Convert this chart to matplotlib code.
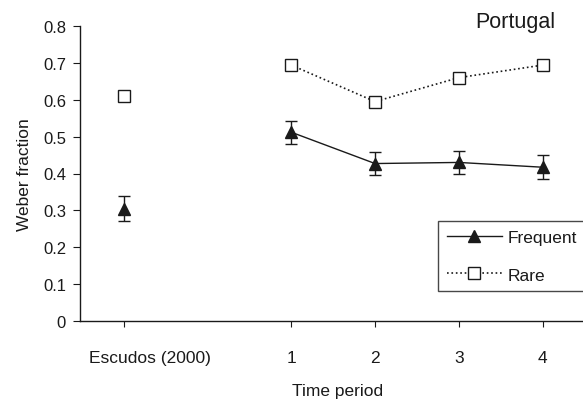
import numpy as np
import matplotlib.pyplot as plt
import matplotlib.transforms as mtransforms
from matplotlib.lines import Line2D

plt.rcParams['font.family'] = ['Liberation Sans', 'DejaVu Sans']

# data
labels = ['Escudos (2000)', '1', '2', '3', '4']
x_pos = [-1, 1, 2, 3, 4]
frequent = [0.305, 0.512, 0.427, 0.430, 0.417]
frequent_err = [0.034, 0.031, 0.032, 0.032, 0.032]
rare = [0.610, 0.694, 0.595, 0.660, 0.694]
rare_err = [0.010, 0.010, 0.010, 0.010, 0.010]

ink = '#1a1a1a'

fig = plt.figure(figsize=(5.83, 4.02), dpi=100)
ax = fig.add_axes([80/583, 1 - 322/402, 1 - 80/583 + 0.02, (322 - 27)/402])

# Escudos points (not connected)
ax.errorbar(x_pos[:1], frequent[:1], yerr=frequent_err[:1], fmt='^', color=ink,
            ms=8, capsize=4, elinewidth=1, capthick=1)
ax.errorbar(x_pos[:1], rare[:1], yerr=rare_err[:1], fmt='s', color=ink, mfc='white',
            ms=8, capsize=3, elinewidth=1, capthick=1)

# time periods
ax.errorbar(x_pos[1:], frequent[1:], yerr=frequent_err[1:], fmt='-^', color=ink,
            lw=1, ms=8, capsize=4, elinewidth=1, capthick=1)
ax.errorbar(x_pos[1:], rare[1:], yerr=rare_err[1:], fmt='s', ls=':', color=ink,
            mfc='white', lw=1.2, ms=8, capsize=3, elinewidth=1, capthick=1)

ax.set_xlim(-1.52, 4.62)
ax.set_ylim(0, 0.8)
ax.set_yticks(np.arange(0, 0.81, 0.1))
ax.set_yticklabels(['0'] + [f'{v:.1f}' for v in np.arange(0.1, 0.81, 0.1)])
ax.set_xticks(x_pos)
ax.set_xticklabels(labels)

for s in ['top', 'right']:
    ax.spines[s].set_visible(False)
for s in ['left', 'bottom']:
    ax.spines[s].set_color(ink)
    ax.spines[s].set_linewidth(1)

ax.tick_params(axis='y', direction='out', length=5, pad=5, labelsize=12, colors=ink)
ax.tick_params(axis='x', direction='out', length=4, pad=17, labelsize=12.5, colors=ink)

# the Escudos label sits a bit right of its tick in the original
lbl = ax.get_xticklabels()[0]
lbl.set_transform(lbl.get_transform() + mtransforms.ScaledTranslation(26/100, 0, fig.dpi_scale_trans))

ax.set_ylabel('Weber fraction', fontsize=12.5, color=ink, labelpad=8)
ax.set_xlabel('Time period', fontsize=12.5, color=ink, labelpad=13)

fig.text(475/583, 1 - 28/402, 'Portugal', fontsize=15.5, color=ink, va='baseline', ha='left')

handles = [Line2D([], [], color=ink, lw=1, marker='^', ms=8),
           Line2D([], [], color=ink, lw=1.2, ls=':', marker='s', ms=8, mfc='white')]
leg = ax.legend(handles, ['Frequent', 'Rare'], loc='upper left',
                bbox_to_anchor=(438/583, 1 - 222/402),
                bbox_transform=fig.transFigure, frameon=True, fancybox=False,
                edgecolor=ink, fontsize=12.5, handlelength=3.2, handletextpad=0.3,
                borderpad=0.5, borderaxespad=0, labelspacing=1.3)
leg.get_frame().set_linewidth(1)
for t in leg.get_texts():
    t.set_color(ink)

fig.savefig('out.png', dpi=100)
